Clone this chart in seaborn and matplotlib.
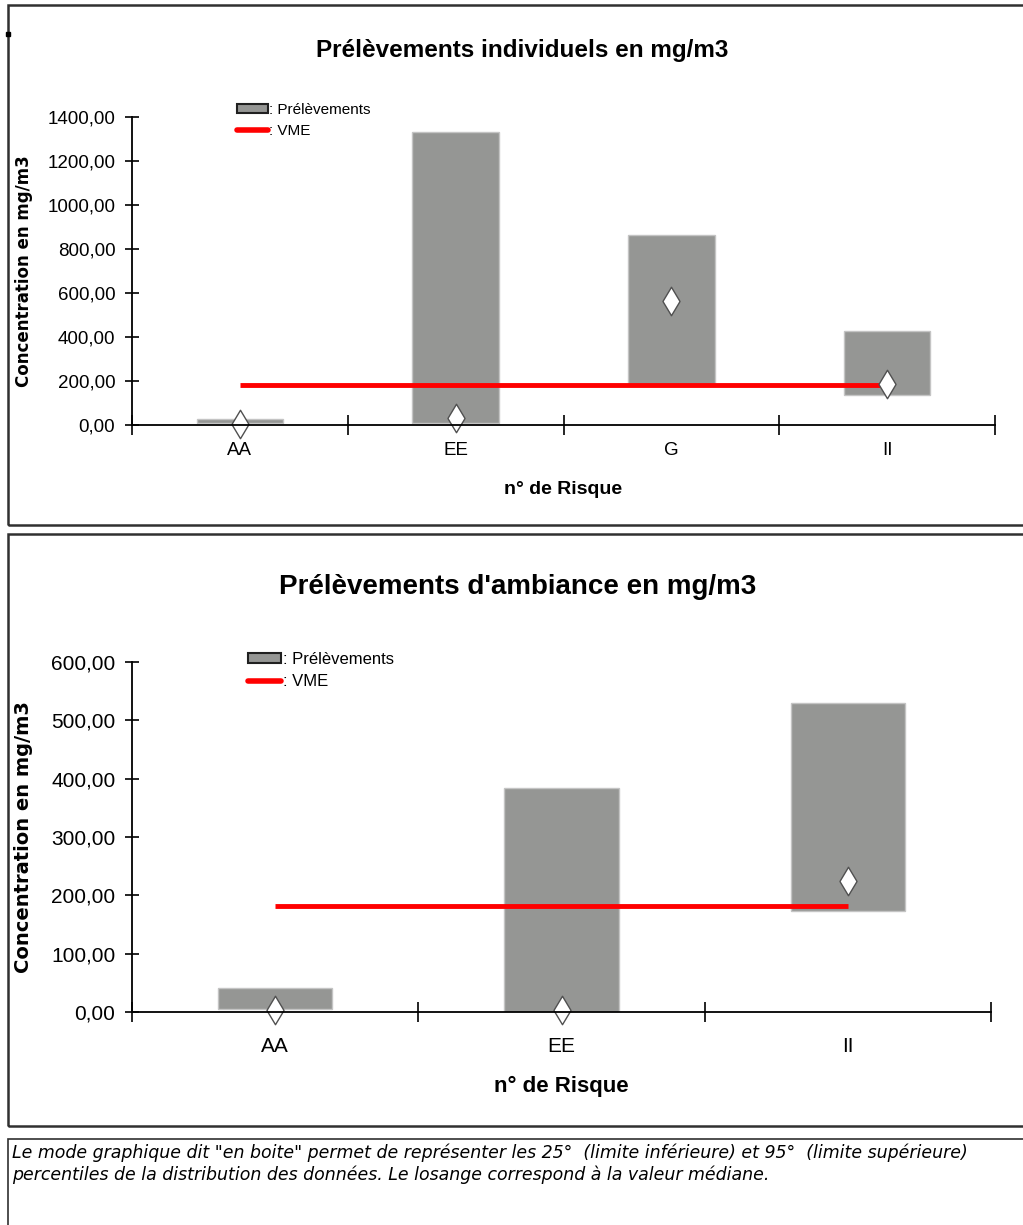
import matplotlib
matplotlib.use('Agg')
import matplotlib.pyplot as plt
import seaborn as sns
import pandas as pd
import numpy as np
from matplotlib.patches import Rectangle, Patch
from matplotlib.lines import Line2D
from matplotlib.ticker import FixedLocator, FixedFormatter, NullFormatter, FuncFormatter

# ---------------- data ----------------
ind_risks = ['AA', 'EE', 'G', 'II']
ind_p25 = [10, 10, 188, 137]
ind_p95 = [25, 1332, 862, 425]
ind_median = [5, 30, 563, 188]
ind_vme = [183, 183, 183, 183]

amb_risks = ['AA', 'EE', 'II']
amb_p25 = [5, 0, 174]
amb_p95 = [41, 384, 529]
amb_median = [3, 3, 224]
amb_vme = [181, 181, 181]

ind_yticks = [0, 200, 400, 600, 800, 1000, 1200, 1400]
amb_yticks = [0, 100, 200, 300, 400, 500, 600]

title_ind = "Prélèvements individuels en mg/m3"
title_amb = "Prélèvements d'ambiance en mg/m3"
ylabel = "Concentration en mg/m3"
xlabel = "n° de Risque"
legend_labels = [": Prélèvements", ": VME"]
note_lines = [
    "Le mode graphique dit \"en boite\" permet de représenter les 25°  (limite inférieure) et 95°  (limite supérieure)",
    "percentiles de la distribution des données. Le losange correspond à la valeur médiane.",
]

# ---------------- style ----------------
sns.set_theme(style='white')
FONT = ['Liberation Sans', 'DejaVu Sans']
plt.rcParams['font.family'] = FONT
for k in ['text.color', 'axes.labelcolor', 'xtick.color', 'ytick.color']:
    plt.rcParams[k] = 'black'
plt.rcParams['axes.edgecolor'] = 'black'

GRAY = '#959694'
RED = '#ff0000'

FIG_W, FIG_H = 1023, 1225
fig = plt.figure(figsize=(FIG_W / 100, FIG_H / 100), dpi=100)
fig.patch.set_facecolor('white')


def px_axes(left, right, top, bottom):
    return fig.add_axes([left / FIG_W, 1 - bottom / FIG_H,
                         (right - left) / FIG_W, (bottom - top) / FIG_H])


def fmt(v, pos):
    return f"{v:.2f}".replace('.', ',')


def draw(ax, risks, p25, p95, med, vme, yticks, tick_fs, xtick_pad, ylab_fs,
         xlab_fs, xlab_y, leg_anchor, leg_fs, leg_space):
    n = len(risks)
    df = pd.DataFrame({'risque': risks, 'p25': p25, 'p95': p95,
                       'med': med, 'vme': vme})
    df['hauteur'] = df['p95'] - df['p25']
    sns.barplot(data=df, x='risque', y='hauteur', bottom=df['p25'].to_numpy(),
                color=GRAY, saturation=1, width=0.4, errorbar=None,
                edgecolor='#c4c4c4', linewidth=1, ax=ax, zorder=2)
    sns.lineplot(data=df, x='risque', y='vme', color=RED, linewidth=3.5,
                 sort=False, ax=ax, zorder=3, solid_capstyle='butt')
    sns.scatterplot(data=df, x='risque', y='med', marker='d', s=210,
                    color='white', edgecolor='#505050', linewidth=1,
                    ax=ax, zorder=4, clip_on=False)

    ax.set_xlim(-0.5, n - 0.5)
    ax.set_ylim(yticks[0], yticks[-1])
    ax.xaxis.set_major_locator(FixedLocator(np.arange(-0.5, n, 1.0)))
    ax.xaxis.set_major_formatter(NullFormatter())
    ax.xaxis.set_minor_locator(FixedLocator(np.arange(n)))
    ax.xaxis.set_minor_formatter(FixedFormatter(risks))
    ax.tick_params(axis='x', which='major', direction='inout', length=14,
                   width=1.2, color='black', bottom=True)
    ax.tick_params(axis='x', which='minor', length=0, labelsize=tick_fs,
                   pad=xtick_pad, bottom=True)
    ax.yaxis.set_major_locator(FixedLocator(yticks))
    ax.yaxis.set_major_formatter(FuncFormatter(fmt))
    ax.tick_params(axis='y', direction='inout', length=10, width=1.2,
                   color='black', labelsize=tick_fs, pad=7, left=True)

    for s in ['top', 'right']:
        ax.spines[s].set_visible(False)
    for s in ['left', 'bottom']:
        ax.spines[s].set_color('black')
        ax.spines[s].set_linewidth(1.3)
    ax.spines['bottom'].set_zorder(5)

    ax.set_ylabel(ylabel, fontsize=ylab_fs, fontweight='bold',
                  family=['DejaVu Sans'])
    ax.yaxis.set_label_coords(-0.115, 0.5)
    ax.set_xlabel(xlabel, fontsize=xlab_fs, fontweight='bold')
    ax.xaxis.label.set_va('center')
    ax.xaxis.set_label_coords(0.5, xlab_y)

    handles = [Patch(facecolor=GRAY, edgecolor='#202020', linewidth=1.5),
               Line2D([], [], color=RED, linewidth=4)]
    ax.legend(handles, legend_labels, loc='upper left',
              bbox_to_anchor=leg_anchor, frameon=False, fontsize=leg_fs,
              handlelength=2.0, handleheight=0.55, handletextpad=0.1,
              labelspacing=leg_space, borderpad=0, borderaxespad=0)


# ---------------- panel frames ----------------
def frame(x0, y0, x1, y1, lw=1.8):
    fig.patches.append(Rectangle((x0 / FIG_W, 1 - y1 / FIG_H),
                                 (x1 - x0) / FIG_W, (y1 - y0) / FIG_H,
                                 transform=fig.transFigure, fill=False,
                                 edgecolor='#303030', linewidth=lw,
                                 zorder=0))

frame(8, 5, 1040, 525)
frame(8, 534, 1040, 1126)
frame(8, 1139, 1040, 1240, lw=1.2)
# tiny mark on the left border of the first panel
fig.patches.append(Rectangle((6 / FIG_W, 1 - 36 / FIG_H), 4 / FIG_W, 4 / FIG_H,
                             transform=fig.transFigure, color='black', zorder=1))

# ---------------- top chart ----------------
ax1 = px_axes(132, 995, 117, 425)
draw(ax1, ind_risks, ind_p25, ind_p95, ind_median, ind_vme, ind_yticks,
     tick_fs=13.5, xtick_pad=12, ylab_fs=12, xlab_fs=14, xlab_y=-0.211,
     leg_anchor=(0.122, 1.045), leg_fs=11, leg_space=0.45)
fig.text(522 / FIG_W, 1 - 50 / FIG_H, title_ind, ha='center', va='center',
         fontsize=17.5, fontweight='bold')

# ---------------- bottom chart ----------------
ax2 = px_axes(132, 991, 662, 1012)
draw(ax2, amb_risks, amb_p25, amb_p95, amb_median, amb_vme, amb_yticks,
     tick_fs=15, xtick_pad=18, ylab_fs=14, xlab_fs=16, xlab_y=-0.214,
     leg_anchor=(0.135, 1.03), leg_fs=12, leg_space=0.45)
fig.text(518 / FIG_W, 1 - 587 / FIG_H, title_amb, ha='center', va='center',
         fontsize=20, fontweight='bold')

# ---------------- note ----------------
for i, line in enumerate(note_lines):
    fig.text(12 / FIG_W, 1 - (1153 + 22 * i) / FIG_H, line, ha='left',
             va='center', fontsize=12.5, style='italic',
             family=['DejaVu Sans'])

fig.savefig('out.png', dpi=100, facecolor='white')
